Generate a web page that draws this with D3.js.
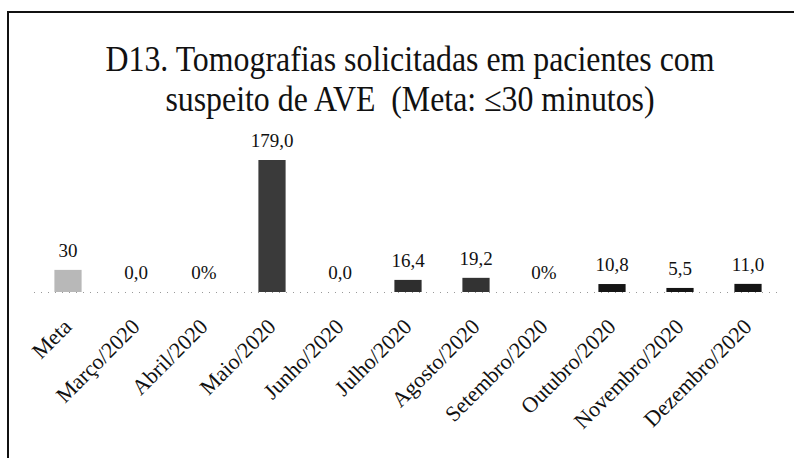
<!DOCTYPE html>
<head>
  <meta charset="utf-8">
  <script src="https://d3js.org/d3.v7.min.js"></script>
  <style>
    body { margin: 0; background: #fff; }
    text { font-family: "Liberation Serif", "DejaVu Serif", serif; fill: #111; }
    .grid { stroke: #999; stroke-width: 1; stroke-dasharray: 1, 6; }
  </style>
</head>
<body>
  <svg width="794" height="458"></svg>
  <script>
    var categories = ["Meta", "Março/2020", "Abril/2020", "Maio/2020", "Junho/2020", "Julho/2020",
      "Agosto/2020", "Setembro/2020", "Outubro/2020", "Novembro/2020", "Dezembro/2020"];
    var values = [30, 0, 0, 179.0, 0, 16.4, 19.2, 0, 10.8, 5.5, 11.0];
    var valueLabels = ["30", "0,0", "0%", "179,0", "0,0", "16,4", "19,2", "0%", "10,8", "5,5", "11,0"];
    var barColors = ["#b8b8b8", "#333", "#333", "#3a3a3a", "#333", "#2e2e2e",
      "#333", "#333", "#151515", "#151515", "#151515"];
    var titleLines = ["D13. Tomografias solicitadas em pacientes com",
      "suspeito de AVE  (Meta: \u226430 minutos)"];

    var svg = d3.select("svg");
    var serif = "'Liberation Serif', 'DejaVu Serif', serif";

    // frame (top and left edges only, as in the scan)
    svg.append("line").attr("x1", 7).attr("x2", 794).attr("y1", 12).attr("y2", 12)
      .attr("stroke", "#111").attr("stroke-width", 2);
    svg.append("line").attr("x1", 8).attr("x2", 8).attr("y1", 12).attr("y2", 458)
      .attr("stroke", "#111").attr("stroke-width", 2);

    // title, a bit condensed like the scanned one
    svg.selectAll(".title")
      .data(titleLines)
      .enter().append("text")
      .attr("class", "title")
      .attr("transform", function (d, i) { return "translate(410," + (71 + i * 40) + ") scale(0.91,1)"; })
      .attr("text-anchor", "middle")
      .style("font-size", "35px")
      .style("font-family", serif)
      .style("white-space", "pre")
      .text(function (d) { return d; });

    var base = 292;
    var x = d3.scaleBand().domain(categories).range([34, 782]).paddingInner(0.6).paddingOuter(0.3);
    var y = d3.scaleLinear().domain([0, 179]).range([base, 160]);

    svg.append("line").attr("class", "grid")
      .attr("x1", 34).attr("x2", 782).attr("y1", base + 0.5).attr("y2", base + 0.5);

    var g = svg.append("g");

    g.selectAll(".bar")
      .data(values)
      .enter().append("rect")
      .attr("class", "bar")
      .attr("x", function (d, i) { return x(categories[i]); })
      .attr("width", x.bandwidth())
      .attr("y", function (d) { return y(d); })
      .attr("height", function (d) { return base - y(d); })
      .attr("fill", function (d, i) { return barColors[i]; });

    g.selectAll(".lbl")
      .data(values)
      .enter().append("text")
      .attr("class", "lbl")
      .attr("x", function (d, i) { return x(categories[i]) + x.bandwidth() / 2; })
      .attr("y", function (d) { return y(d) - 13; })
      .attr("text-anchor", "middle")
      .style("font-size", "19px")
      .style("font-family", serif)
      .text(function (d, i) { return valueLabels[i]; });

    var xAxis = d3.axisBottom(x).tickSize(0).tickPadding(0);
    var ax = svg.append("g")
      .attr("transform", "translate(0," + base + ")")
      .call(xAxis);
    ax.select(".domain").remove();
    ax.selectAll("text")
      .style("font-size", "22px")
      .style("font-family", serif)
      .attr("fill", "#111")
      .attr("text-anchor", "end")
      .attr("dy", null)
      .attr("y", 0)
      .attr("transform", "translate(5,36) rotate(-45)");
  </script>
</body>
